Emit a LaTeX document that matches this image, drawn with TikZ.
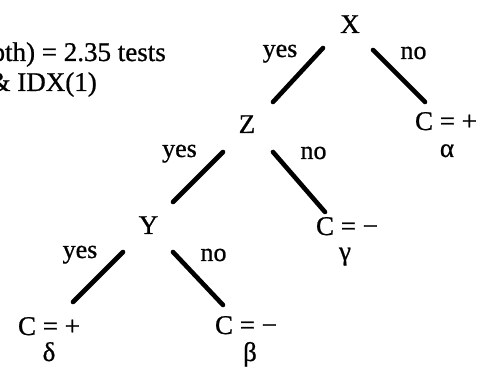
\documentclass[tikz,border=0pt]{standalone}
\usepackage{fontspec}
\setmainfont{Liberation Serif}[FakeBold=0.8]
\usetikzlibrary{positioning}
\tikzset{
  test/.style  ={anchor=base,inner sep=0pt,font=\fontsize{27}{30}\selectfont},
  leaf/.style  ={anchor=base,inner sep=0pt,font=\fontsize{27}{30}\selectfont},
  cls/.style   ={anchor=base,inner sep=0pt,font=\fontsize{27}{30}\selectfont},
  answer/.style={anchor=base,inner sep=0pt,font=\fontsize{26}{30}\selectfont},
  note/.style  ={anchor=base east,inner sep=0pt,font=\fontsize{27}{30}\selectfont},
  branch/.style={line width=4.6pt,line cap=round},
}

\begin{document}
\begin{tikzpicture}[x=1pt,y=-1pt]
  \useasboundingbox (0,0) rectangle (488,371);
  \clip (0,0) rectangle (488,371);
  % cost note, cut off at the left edge
  \node[note] (depthnote) at (166,61) {E(depth) = 2.35 tests};
  \node[note] (idxnote)   at (97,91)  {\& IDX(1)};
  % tests
  \node[test] (X) at (350,33)   {X};
  \node[test] (Z) at (247,133)  {Z};
  \node[test] (Y) at (148.5,234) {Y};
  % leaves
  \node[leaf] (leafA) at (446,130) {C = +};
  \node[cls]  (alpha) at (447,157) {α};
  \node[leaf] (leafG) at (347,235) {C = −};
  \node[cls]  (gamma) at (345,260) {γ};
  \node[leaf] (leafD) at (49,335)  {C = +};
  \node[cls]  (delta) at (49,361)  {δ};
  \node[leaf] (leafB) at (246,334) {C = −};
  \node[cls]  (beta)  at (250,361) {β};
  % branches
  \draw[branch] ([shift={(-27,15)}]X.base) -- ([shift={(26,-31)}]Z.base);
  \draw[branch] ([shift={(23,17)}]X.base)  -- ([shift={(-21,-28)}]leafA.base);
  \draw[branch] ([shift={(-24,19)}]Z.base) -- ([shift={(24.5,-32)}]Y.base);
  \draw[branch] ([shift={(26,19)}]Z.base)  -- ([shift={(-22,-23)}]leafG.base);
  \draw[branch] ([shift={(-25.5,18)}]Y.base) -- ([shift={(24,-33)}]leafD.base);
  \draw[branch] ([shift={(24.5,18)}]Y.base)  -- ([shift={(-23,-29)}]leafB.base);
  % answers
  \node[answer] (xyes) at (280,57)    {yes};
  \node[answer] (xno)  at (413.5,59)  {no};
  \node[answer] (zyes) at (179.5,157) {yes};
  \node[answer] (zno)  at (313.5,159) {no};
  \node[answer] (yyes) at (80,258)    {yes};
  \node[answer] (yno)  at (213.5,261) {no};
\end{tikzpicture}
\end{document}
